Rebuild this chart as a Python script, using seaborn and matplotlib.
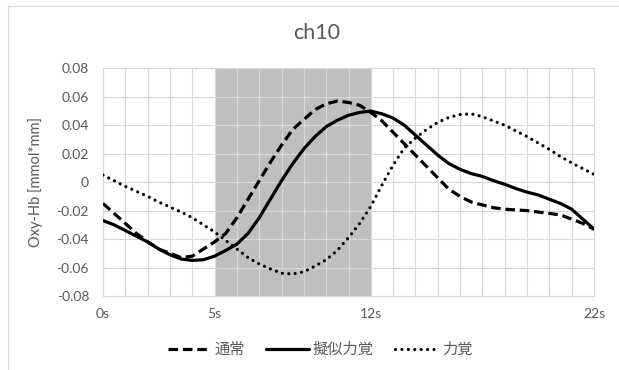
import matplotlib
matplotlib.use("Agg")
import matplotlib.pyplot as plt
import matplotlib.ticker as mtick
from matplotlib.patches import Rectangle
import seaborn as sns
import pandas as pd
import numpy as np

# time axis (s), read every 0.5 s
tiempo = [i * 0.5 for i in range(45)]

normal = [-0.015, -0.022, -0.029, -0.036, -0.042, -0.047, -0.050, -0.053, -0.052, -0.047,
          -0.042, -0.036, -0.025, -0.012, 0.001, 0.014, 0.026, 0.037, 0.044, 0.051,
          0.055, 0.057, 0.056, 0.054, 0.049, 0.043, 0.035, 0.027, 0.019, 0.011,
          0.003, -0.005, -0.010, -0.014, -0.016, -0.018, -0.019, -0.0195, -0.020, -0.021,
          -0.022, -0.023, -0.026, -0.029, -0.033]

pseudo = [-0.027, -0.030, -0.034, -0.038, -0.042, -0.047, -0.051, -0.054, -0.055, -0.0545,
          -0.052, -0.048, -0.0435, -0.036, -0.025, -0.012, 0.001, 0.013, 0.0235, 0.032,
          0.039, 0.0435, 0.047, 0.049, 0.050, 0.048, 0.045, 0.040, 0.033, 0.026,
          0.019, 0.013, 0.009, 0.006, 0.004, 0.001, -0.0015, -0.0045, -0.007, -0.009,
          -0.012, -0.015, -0.019, -0.026, -0.033]

force = [0.005, 0.001, -0.003, -0.0065, -0.010, -0.014, -0.0175, -0.021, -0.025, -0.030,
         -0.035, -0.041, -0.047, -0.053, -0.0575, -0.061, -0.064, -0.0645, -0.063, -0.059,
         -0.0545, -0.048, -0.039, -0.029, -0.017, -0.002, 0.012, 0.024, 0.031, 0.037,
         0.042, 0.0455, 0.0475, 0.048, 0.046, 0.043, 0.040, 0.036, 0.032, 0.0275,
         0.023, 0.018, 0.0135, 0.0095, 0.0055]

series_names = ['通常', '擬似力覚', '力覚']
xtick_pos = [0, 5, 12, 22]
xtick_labels = ['0s', '5s', '12s', '22s']
shade_start, shade_end = 5, 12

df = pd.DataFrame({'t': tiempo, '通常': normal, '擬似力覚': pseudo, '力覚': force})
df_long = df.melt(id_vars='t', var_name='cond', value_name='oxy')

sns.set_style('white')
plt.rcParams['font.family'] = ['Lato', 'Noto Sans CJK JP', 'DejaVu Sans']

gris = '#595959'
fig = plt.figure(figsize=(6.19, 3.70), dpi=100)
ax = fig.add_axes([103 / 619, 1 - 296 / 370, 491 / 619, 227.7 / 370])

ax.axvspan(shade_start, shade_end, color='#bfbfbf', lw=0, zorder=0.2)

estilos = {'通常': (0, (3, 1.5)), '擬似力覚': '-', '力覚': (0, (0.01, 2))}
for name in series_names:
    sub = df_long[df_long['cond'] == name]
    sns.lineplot(data=sub, x='t', y='oxy', ax=ax, color='black', lw=2.3,
                 linestyle=estilos[name], label=name, zorder=3)
for line in ax.get_lines():
    line.set_dash_capstyle('round' if line.get_label() == '力覚' else 'butt')

ax.set_xlim(0, 22)
ax.set_ylim(-0.08, 0.08)
ax.set_xticks(range(23))
ax.set_xticklabels([xtick_labels[xtick_pos.index(i)] if i in xtick_pos else '' for i in range(23)])
ax.set_yticks(np.arange(-0.08, 0.081, 0.02))
ax.yaxis.set_major_formatter(mtick.FuncFormatter(lambda v, p: '0' if abs(v) < 1e-9 else f'{v:.2f}'))
ax.set_axisbelow(True)
ax.grid(True, color='#d9d9d9', lw=0.8, zorder=0.5)
for s in ax.spines.values():
    s.set_color('#d9d9d9')
    s.set_linewidth(0.8)
ax.tick_params(axis='both', length=0, labelsize=10, colors=gris)
ax.tick_params(axis='y', pad=10)
ax.tick_params(axis='x', pad=9)

ax.set_xlabel('')
ax.set_ylabel('Oxy-Hb [mmol*mm]', fontsize=10.5, color=gris)
ax.yaxis.set_label_coords(-0.122, 0.5)

fig.text(0.512, 1 - 33 / 370, 'ch10', ha='center', va='center', fontsize=15.5, color=gris)

ax.get_legend().remove()
handles = ax.get_lines()[:3]
fig.legend(handles, series_names, loc='center', bbox_to_anchor=(0.517, 1 - 350 / 370),
           ncol=3, frameon=False, fontsize=11, handlelength=2.8, handletextpad=0.25,
           columnspacing=1.4, labelcolor=gris)

# chart area border
fig.patches.append(Rectangle((8 / 619, -0.1), 1.2, 1.1 - 6 / 370, transform=fig.transFigure,
                             fill=False, edgecolor='#d9d9d9', lw=0.8))

fig.savefig('out.png', dpi=100)
